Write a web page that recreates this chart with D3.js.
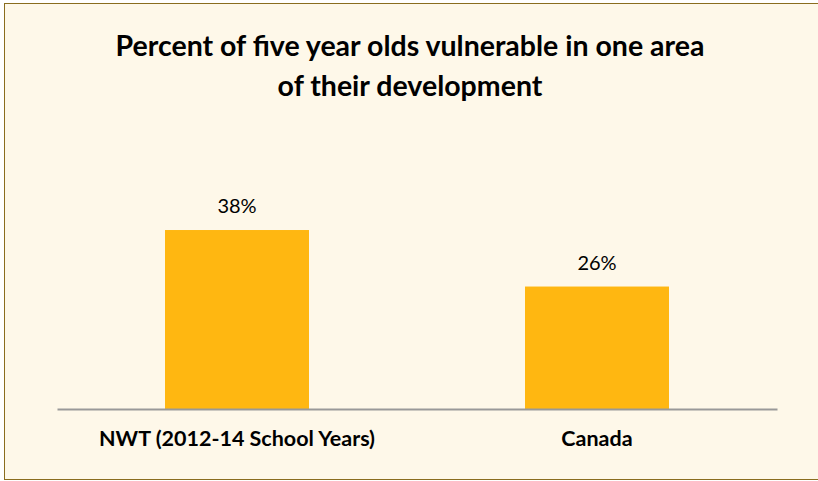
<!DOCTYPE html>
<html>
<head>
<meta charset="utf-8">
<script src="https://cdn.jsdelivr.net/npm/d3@7"></script>
<style>
  body { margin: 0; background: #fff; }
  svg { display: block; }
</style>
</head>
<body>
<div id="chart"></div>
<script>
// chart values
var categories = ["NWT (2012-14 School Years)", "Canada"];
var values = [38, 26];
var valueLabels = ["38%", "26%"];
var titleLines = ["Percent of five year olds vulnerable in one area", "of their development"];

var w = 818, h = 481;
var base = 409, axisLeft = 57, axisRight = 777;

const svg = d3.select('#chart')
    .append('svg')
    .attr('width', w)
    .attr('height', h);

// background + frame
svg.append('rect')
    .attr('x', 4.5).attr('y', 3.5)
    .attr('width', w - 4).attr('height', h - 5)
    .attr('fill', '#fef8e9')
    .attr('stroke', '#8a6d1e')
    .attr('stroke-width', 1);

const x = d3.scaleBand()
    .domain(categories)
    .range([axisLeft, axisRight])
    .paddingInner(0.6)
    .paddingOuter(0.3);

const y = d3.scaleLinear()
    .domain([0, 40])
    .range([base, base - 188.4]);

svg.append('g').selectAll('text')
    .data(titleLines)
    .enter().append('text')
    .attr('x', 410)
    .attr('y', (d, i) => 56 + i * 40)
    .attr('text-anchor', 'middle')
    .attr('font-family', 'Lato, sans-serif')
    .attr('font-weight', 'bold')
    .attr('font-size', 28.5)
    .attr('fill', '#000')
    .text(d => d);

svg.append('g').selectAll('rect')
    .data(values)
    .enter().append('rect')
    .attr('x', (d, i) => x(categories[i]))
    .attr('y', d => y(d))
    .attr('width', x.bandwidth())
    .attr('height', d => y(0) - y(d))
    .attr('fill', '#ffb711');

svg.append('g').selectAll('text')
    .data(values)
    .enter().append('text')
    .attr('x', (d, i) => x(categories[i]) + x.bandwidth() / 2)
    .attr('y', d => y(d) - 17)
    .attr('text-anchor', 'middle')
    .attr('font-family', 'Lato, sans-serif')
    .attr('font-size', 20)
    .attr('fill', '#000')
    .text((d, i) => valueLabels[i]);

// category axis
const xAxis = svg.append('g')
    .attr('transform', 'translate(0,' + base + ')')
    .call(d3.axisBottom(x).tickSize(0).tickPadding(22));
xAxis.select('.domain').attr('stroke', '#999').attr('stroke-width', 2);
xAxis.selectAll('text')
    .attr('font-family', 'Lato, sans-serif')
    .attr('font-weight', 'bold')
    .attr('font-size', 21.5)
    .attr('fill', '#000');
</script>
</body>
</html>
